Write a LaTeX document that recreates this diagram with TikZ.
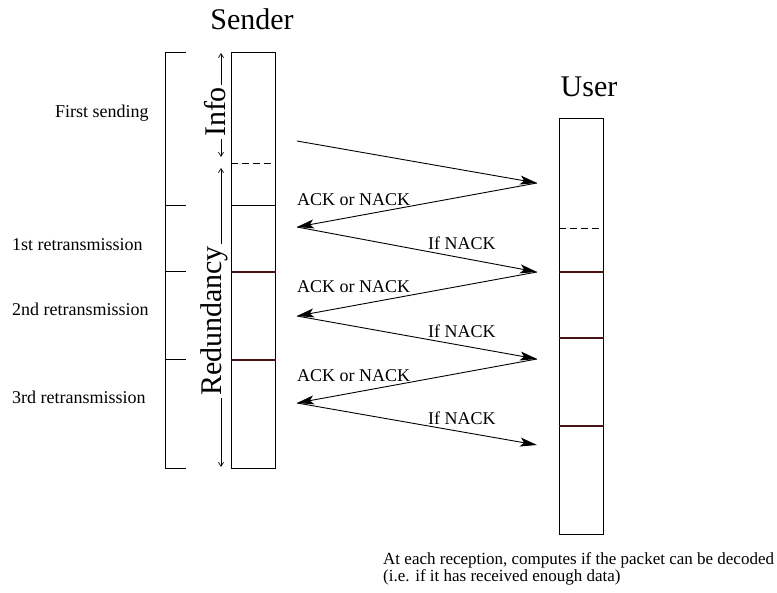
\documentclass[tikz,border=0pt]{standalone}
\usepackage{fontspec}
\setmainfont{Liberation Serif}
\usetikzlibrary{arrows.meta}
\definecolor{divcol}{RGB}{70,18,18}
\begin{document}
\begin{tikzpicture}[x=1pt,y=-1pt,
  lbl/.style={font=\fontsize{18}{18}\selectfont, inner sep=0pt, anchor=base west},
  note/.style={font=\fontsize{17}{15}\selectfont, inner sep=0pt, anchor=base west},
  big/.style={font=\fontsize{30}{30}\selectfont, inner sep=0pt},
  ln/.style={line width=1pt},
  divline/.style={line width=1.2pt, draw=divcol},
  dashline/.style={line width=0.8pt, dash pattern=on 7pt off 4pt},
  msg/.style={line width=0.9pt, -{Stealth[length=17pt,width=9pt,inset=4pt]}},
  dimline/.style={line width=0.7pt, {Straight Barb[length=4pt,width=5pt]}-{Straight Barb[length=4pt,width=5pt]}},
  box/.style={draw, line width=1pt, minimum width=44pt, minimum height=416pt, inner sep=0pt},
]
\useasboundingbox (0,0) rectangle (777,593);

% boxes
\node[box] (sender) at (253,261) {};
\node[box] (user) at (581,326.5) {};

% sender divisions
\draw[dashline] (sender.west |- 0,163) -- (sender.east |- 0,163);
\draw[ln] (sender.west |- 0,206) -- (sender.east |- 0,206);
\draw[divline] (sender.west |- 0,272) -- (sender.east |- 0,272);
\draw[divline] (sender.west |- 0,360) -- (sender.east |- 0,360);

% user divisions
\draw[dashline] (user.west |- 0,228.5) -- (user.east |- 0,228.5);
\draw[divline] (user.west |- 0,272) -- (user.east |- 0,272);
\draw[divline] (user.west |- 0,338) -- (user.east |- 0,338);
\draw[divline] (user.west |- 0,426) -- (user.east |- 0,426);

% titles
\node[big, anchor=base] (sendertitle) at (252,30) {Sender};
\node[big, anchor=base] (usertitle) at (589,97) {User};

% bracket
\draw[ln] (186,53) -- (165,53) -- (165,469) -- (186,469);
\draw[ln] (165,206) -- (186,206);
\draw[ln] (165,272) -- (186,272);
\draw[ln] (165,360) -- (186,360);

% bracket labels
\node[lbl] (first) at (55,118) {First sending};
\node[lbl] (r1) at (12,251) {1st retransmission};
\node[lbl] (r2) at (12,316) {2nd retransmission};
\node[lbl] (r3) at (12,404) {3rd retransmission};

% dimension arrows
\coordinate (infoTop) at (221,53);
\coordinate (infoBot) at (221,157);
\coordinate (redTop) at (221,168);
\coordinate (redBot) at (221,467);
\draw[dimline] (infoTop) -- (infoBot);
\draw[dimline] (redTop) -- (redBot);
\node[big, rotate=90, fill=white, inner sep=2pt] (info) at (215,112) {Info};
\node[big, rotate=90, fill=white, inner sep=2pt] (red) at (214,321) {Redundancy};

% message arrows
\coordinate (s0) at (297,141);
\coordinate (u1) at (537,183);
\coordinate (s1) at (297,227);
\coordinate (u2) at (537,272);
\coordinate (s2) at (297,316);
\coordinate (u3) at (537,359);
\coordinate (s3) at (297,403);
\coordinate (u4) at (537,445);
\draw[msg] (s0) -- (u1);
\draw[msg] (u1) -- (s1);
\draw[msg] (s1) -- (u2);
\draw[msg] (u2) -- (s2);
\draw[msg] (s2) -- (u3);
\draw[msg] (u3) -- (s3);
\draw[msg] (s3) -- (u4);

% message labels
\node[lbl] (ack1) at (297,206) {ACK or NACK};
\node[lbl] (nack1) at (428,250) {If NACK};
\node[lbl] (ack2) at (297,293) {ACK or NACK};
\node[lbl] (nack2) at (428,338) {If NACK};
\node[lbl] (ack3) at (297,382) {ACK or NACK};
\node[lbl] (nack3) at (428,425) {If NACK};

% bottom note
\node[note] (note1) at (383,564) {At each reception, computes if the packet can be decoded};
\node[note] (note2) at (383,581) {(i.e. if it has received enough data)};
\end{tikzpicture}
\end{document}
